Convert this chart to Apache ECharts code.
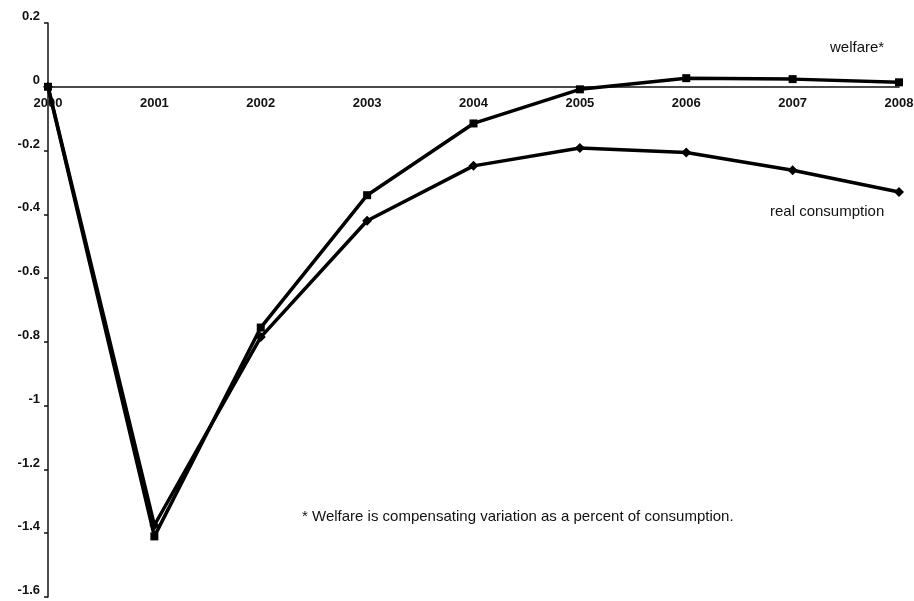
<!DOCTYPE html>
<html>
<head>
<meta charset="utf-8">
<script src="https://cdn.jsdelivr.net/npm/echarts@6/dist/echarts.min.js"></script>
<style>
html,body{margin:0;padding:0;background:#fff;}
#chart{width:914px;height:601px;}
</style>
</head>
<body>
<div id="chart"></div>
<script>
var years = ['2000','2001','2002','2003','2004','2005','2006','2007','2008'];
var welfare = [0, -1.41, -0.755, -0.34, -0.115, -0.008, 0.027, 0.024, 0.014];
var realConsumption = [0, -1.375, -0.785, -0.42, -0.248, -0.192, -0.206, -0.262, -0.33];
var yTicks = {min: -1.6, max: 0.2, interval: 0.2};

var chart = echarts.init(document.getElementById('chart'));
var font = 'Liberation Sans, Arial, sans-serif';
var gridTop = 23;
chart.setOption({
  animation: false,
  backgroundColor: '#fff',
  grid: {left: 48, right: 15, top: gridTop, bottom: 4, containLabel: false, outerBoundsMode: 'none'},
  xAxis: [{
    type: 'category',
    data: years,
    boundaryGap: false,
    axisLine: {onZero: true, lineStyle: {color: '#111', width: 1.5}},
    axisTick: {show: false},
    axisLabel: {show: false},
    splitLine: {show: false}
  }, {
    type: 'category',
    data: years,
    boundaryGap: false,
    position: 'top',
    offset: 0,
    axisLine: {show: false},
    axisTick: {show: false},
    axisLabel: {show: true, inside: true, color: '#111', fontFamily: font, fontSize: 13, fontWeight: 'bold', margin: 10},
    splitLine: {show: false}
  }],
  yAxis: {
    type: 'value',
    min: yTicks.min,
    max: yTicks.max,
    interval: yTicks.interval,
    axisLine: {show: true, lineStyle: {color: '#111', width: 1.5}},
    axisTick: {show: true, length: 4, lineStyle: {color: '#111', width: 1.5}},
    axisLabel: {
      color: '#111', fontFamily: font, fontSize: 13, fontWeight: 'bold', margin: 8,
      verticalAlign: 'bottom',
      formatter: function (v) { return String(Math.round(v * 10) / 10); }
    },
    splitLine: {show: false}
  },
  series: [
    {
      name: 'welfare*',
      type: 'line',
      data: welfare,
      symbol: 'rect',
      symbolSize: 8,
      lineStyle: {color: '#000', width: 3.5},
      itemStyle: {color: '#000'},
      z: 3
    },
    {
      name: 'real consumption',
      type: 'line',
      data: realConsumption,
      symbol: 'diamond',
      symbolSize: 10,
      lineStyle: {color: '#000', width: 3.5},
      itemStyle: {color: '#000'},
      z: 2
    }
  ],
  graphic: [
    {type: 'text', left: 830, top: 40, style: {text: 'welfare*', font: '15px ' + font, fill: '#111'}},
    {type: 'text', left: 770, top: 204, style: {text: 'real consumption', font: '15px ' + font, fill: '#111'}},
    {type: 'text', left: 302, top: 509, style: {text: '* Welfare is compensating variation as a percent of consumption.', font: '15px ' + font, fill: '#111'}}
  ]
});
var y0 = chart.convertToPixel({yAxisIndex: 0}, 0);
chart.setOption({xAxis: [{}, {offset: -(y0 - gridTop)}]});
</script>
</body>
</html>
